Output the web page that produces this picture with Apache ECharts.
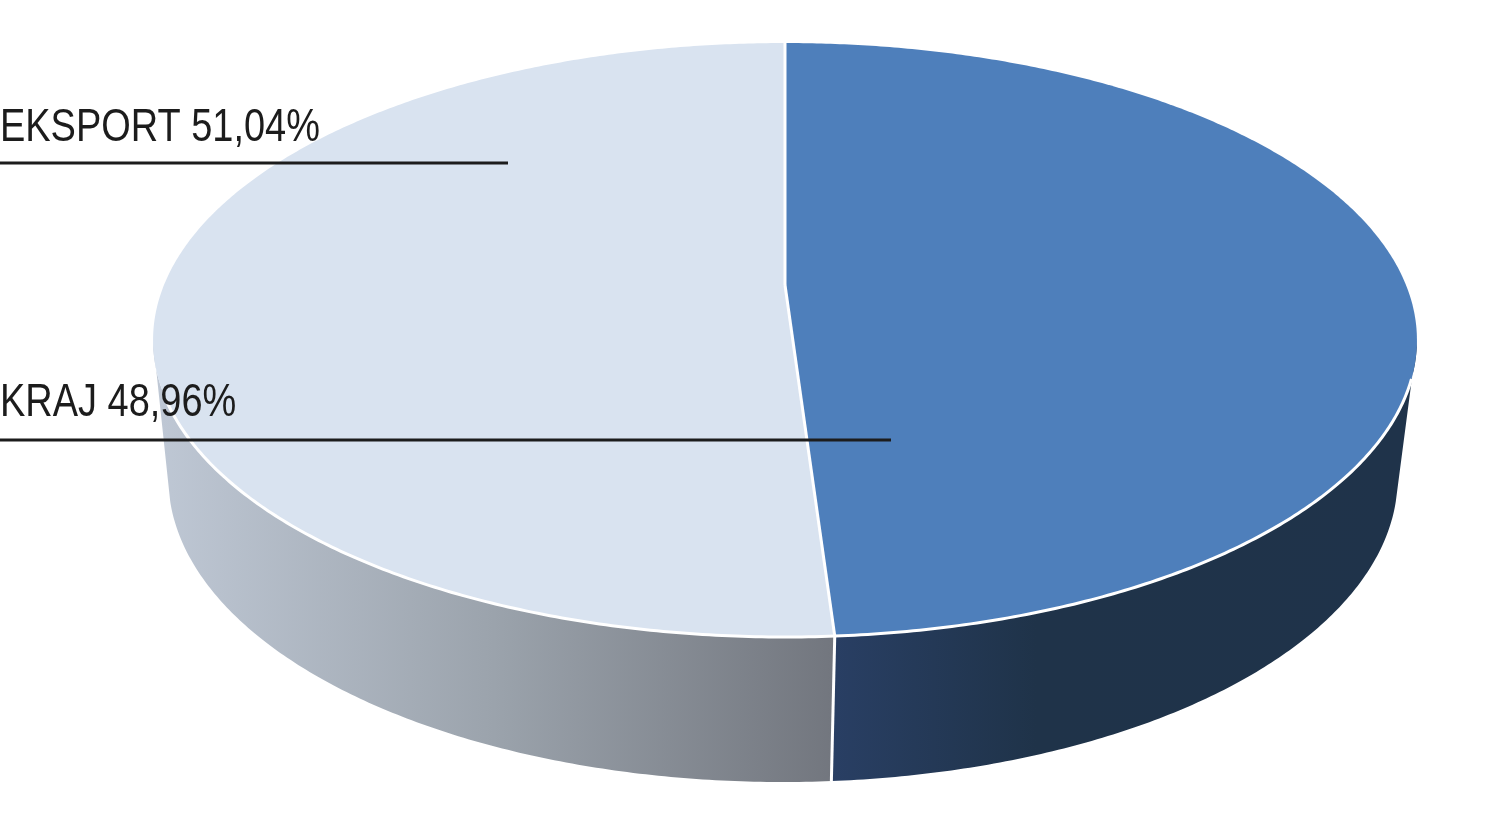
<!DOCTYPE html>
<html>
<head>
<meta charset="utf-8">
<style>html,body{margin:0;padding:0;background:#fff}#c{width:1500px;height:813px}</style>
<script src="https://cdn.jsdelivr.net/npm/echarts@6/dist/echarts.min.js"></script>
</head>
<body>
<div id="c"></div>
<script>
var categories = ['KRAJ', 'EKSPORT'];
var shares = [48.96, 51.04];

var topColors = ['#4e7fbb', '#d9e3f0'];
var wallStops = [
  [[0, '#293f64'], [0.35, '#1f3349'], [1, '#1f334a']],
  [[0, '#bfc8d5'], [0.5, '#9ba3ac'], [1, '#72767e']]
];
var labelY = [426, 151];
var leaderY = [440, 163];
var leaderEnd = [891, 508];

// perspective disc: screen = centre + (A*sin, -B*cos) / (1 + k*cos)
var K = 0.1852;
var topDisc = { cx: 785, cy: 285, a: 621, b: 286.8 };
var baseDisc = { cx: 783, cy: 421.7, a: 604, b: 293.6 };
var WALL_FROM = 100.7, WALL_TO = 259.3, BASE_FROM = 105, BASE_TO = 255, RIM_FROM = 108, RIM_TO = 248;

function project(d, deg) {
  var t = deg * Math.PI / 180, c = Math.cos(t), w = 1 + K * c;
  return [d.cx + d.a * Math.sin(t) / w, d.cy - d.b * c / w];
}
function arc(d, from, to) {
  var pts = [], n = Math.max(2, Math.ceil(Math.abs(to - from) * 2));
  for (var i = 0; i <= n; i++) pts.push(project(d, from + (to - from) * i / n));
  return pts;
}

var total = shares.reduce(function (s, v) { return s + v; }, 0);
var starts = [], run = 0;
shares.forEach(function (v) { starts.push(run / total * 360); run += v; });

function renderItem(params, api) {
  var i = params.dataIndex;
  var a0 = starts[i], a1 = a0 + api.value(0) / total * 360;
  var kids = [];
  var wf = Math.max(a0, WALL_FROM), wt = Math.min(a1, WALL_TO);
  var bf = Math.max(a0, BASE_FROM), bt = Math.min(a1, BASE_TO);
  if (wt > wf) {
    kids.push({
      type: 'polygon', z2: 1,
      shape: { points: arc(topDisc, wf, wt).concat(arc(baseDisc, bt, bf)) },
      style: {
        fill: new echarts.graphic.LinearGradient(0, 0, 1, 0,
          wallStops[i].map(function (s) { return { offset: s[0], color: s[1] }; })
        )
      }
    });
  }
  kids.push({
    type: 'polygon', z2: 2,
    shape: { points: [[topDisc.cx, topDisc.cy]].concat(arc(topDisc, a0, a1)) },
    style: { fill: topColors[i] }
  });
  var rf = Math.max(a0, RIM_FROM), rt = Math.min(a1, RIM_TO);
  if (rt > rf) {
    kids.push({
      type: 'polyline', z2: 4,
      shape: { points: arc(topDisc, rf, rt) },
      style: { fill: 'none', stroke: '#ffffff', lineWidth: 3 }
    });
  }
  var end = project(topDisc, a1), endB = project(baseDisc, a1);
  kids.push({
    type: 'polyline', z2: 3,
    shape: { points: [[topDisc.cx, topDisc.cy], end] },
    style: { fill: 'none', stroke: '#ffffff', lineWidth: 3 }
  });
  if (a1 > WALL_FROM && a1 < WALL_TO) {
    kids.push({
      type: 'polyline', z2: 3,
      shape: { points: [end, endB] },
      style: { fill: 'none', stroke: '#ffffff', lineWidth: 3 }
    });
  }
  if (a0 === 0) {
    kids.push({
      type: 'polyline', z2: 3,
      shape: { points: [[topDisc.cx, topDisc.cy], project(topDisc, a0)] },
      style: { fill: 'none', stroke: '#e9eff7', lineWidth: 2 }
    });
  }
  kids.push({
    type: 'polyline', z2: 6,
    shape: { points: [[0, leaderY[i]], [leaderEnd[i], leaderY[i]]] },
    style: { fill: 'none', stroke: '#1c1c1c', lineWidth: 3 }
  });
  kids.push({
    type: 'text', z2: 7, x: 0, y: labelY[i], scaleX: 0.825, scaleY: 1,
    style: {
      text: categories[i] + ' ' + api.value(0).toFixed(2).replace('.', ',') + '%',
      fill: '#1c1c1c',
      font: '46px "Liberation Sans", sans-serif',
      textAlign: 'left', textVerticalAlign: 'bottom'
    }
  });
  return { type: 'group', children: kids };
}

var chart = echarts.init(document.getElementById('c'), null, { renderer: 'canvas' });
chart.setOption({
  animation: false,
  backgroundColor: '#ffffff',
  tooltip: { show: false },
  series: [{
    type: 'custom',
    coordinateSystem: 'none',
    silent: true,
    renderItem: renderItem,
    data: shares.map(function (v) { return [v]; })
  }]
});
</script>
</body>
</html>
